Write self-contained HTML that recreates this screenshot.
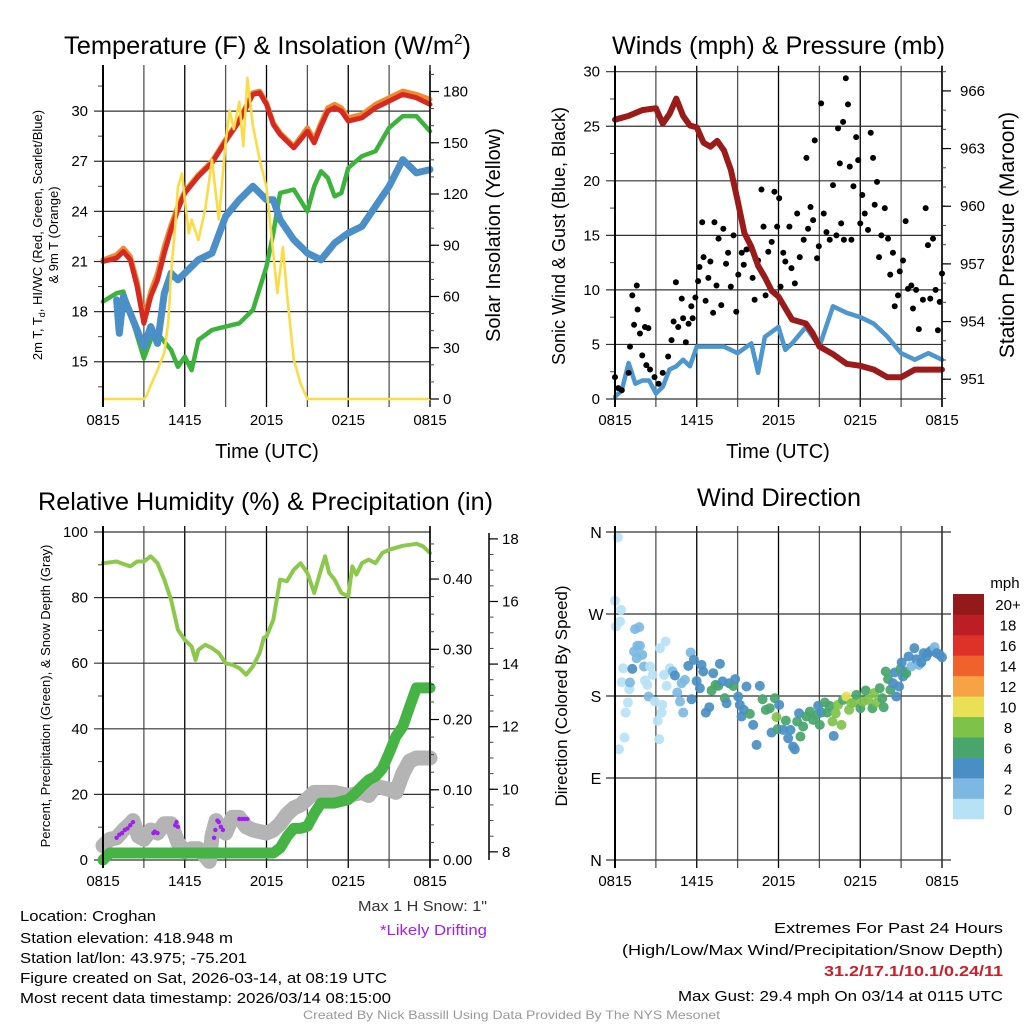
<!DOCTYPE html>
<html><head><meta charset="utf-8"><style>
html,body{margin:0;padding:0;background:#fff}
svg{display:block;font-family:"Liberation Sans",sans-serif}
</style></head><body>
<svg id="fig" width="1024" height="1024" viewBox="0 0 1024 1024" xmlns="http://www.w3.org/2000/svg">
<g id="grids"></g><g id="marks"></g><g id="axes"></g>
<text x="64" y="54" font-size="25" textLength="407" lengthAdjust="spacingAndGlyphs">Temperature (F) &amp; Insolation (W/m<tspan font-size="15" dy="-10">2</tspan><tspan dy="10">)</tspan></text>
<text x="612" y="54" font-size="25" textLength="333" lengthAdjust="spacingAndGlyphs">Winds (mph) &amp; Pressure (mb)</text>
<text x="38" y="510" font-size="25" textLength="455" lengthAdjust="spacingAndGlyphs">Relative Humidity (%) &amp; Precipitation (in)</text>
<text x="697" y="506" font-size="25" textLength="164" lengthAdjust="spacingAndGlyphs">Wind Direction</text>
<text x="267" y="458" font-size="20" text-anchor="middle">Time (UTC)</text>
<text x="778" y="458" font-size="20" text-anchor="middle">Time (UTC)</text>
<text transform="translate(42,235) rotate(-90)" font-size="13" text-anchor="middle">2m T, T<tspan font-size="9" dy="3">d</tspan><tspan dy="-3">, HI/WC (Red, Green, Scarlet/Blue)</tspan></text>
<text transform="translate(58,235) rotate(-90)" font-size="13" text-anchor="middle">&amp; 9m T (Orange)</text>
<text transform="translate(500,235) rotate(-90)" font-size="20" text-anchor="middle">Solar Insolation (Yellow)</text>
<text transform="translate(565,236) rotate(-90)" font-size="18" text-anchor="middle">Sonic Wind &amp; Gust (Blue, Black)</text>
<text transform="translate(1014,235) rotate(-90)" font-size="21" text-anchor="middle">Station Pressure (Maroon)</text>
<text transform="translate(50,696) rotate(-90)" font-size="13" text-anchor="middle">Percent, Precipitation (Green), &amp; Snow Depth (Gray)</text>
<text transform="translate(567,696) rotate(-90)" font-size="17" text-anchor="middle">Direction (Colored By Speed)</text>
<g font-size="15">
<text x="20" y="921" textLength="136" lengthAdjust="spacingAndGlyphs">Location: Croghan</text>
<text x="20" y="943" textLength="213" lengthAdjust="spacingAndGlyphs">Station elevation: 418.948 m</text>
<text x="20" y="963" textLength="227" lengthAdjust="spacingAndGlyphs">Station lat/lon: 43.975; -75.201</text>
<text x="20" y="983" textLength="367" lengthAdjust="spacingAndGlyphs">Figure created on Sat, 2026-03-14, at 08:19 UTC</text>
<text x="20" y="1003" textLength="371" lengthAdjust="spacingAndGlyphs">Most recent data timestamp: 2026/03/14 08:15:00</text>
<text x="358" y="911" fill="#333" textLength="129" lengthAdjust="spacingAndGlyphs">Max 1 H Snow: 1"</text>
<text x="380" y="935" fill="#a020f0" textLength="107" lengthAdjust="spacingAndGlyphs">*Likely Drifting</text>
<text x="1003" y="933" text-anchor="end" textLength="229" lengthAdjust="spacingAndGlyphs">Extremes For Past 24 Hours</text>
<text x="1003" y="955" text-anchor="end" textLength="381" lengthAdjust="spacingAndGlyphs">(High/Low/Max Wind/Precipitation/Snow Depth)</text>
<text x="1003" y="976" text-anchor="end" fill="#c8202a" font-weight="bold" textLength="179" lengthAdjust="spacingAndGlyphs">31.2/17.1/10.1/0.24/11</text>
<text x="1003" y="1001" text-anchor="end" textLength="325" lengthAdjust="spacingAndGlyphs">Max Gust: 29.4 mph On 03/14 at 0115 UTC</text>
</g>
<text x="303" y="1019" font-size="12" fill="#999" textLength="417" lengthAdjust="spacingAndGlyphs">Created By Nick Bassill Using Data Provided By The NYS Mesonet</text>
</svg>
<script>
// ---------- data (hours since 0815 UTC) ----------
const xTickLabels = ["0815","1415","2015","0215","0815"];
const tempHours = [0,1,1.5,2,2.5,3,3.5,4,4.5,5,5.5,6,7,8,9,10,11,11.5,12,12.5,13,14,15,15.5,16,16.5,17,17.5,18,19,20,21,22,23,24];
const tempRed = [21.0,21.2,21.6,21.1,19.5,17.3,18.9,19.9,21.5,22.9,24.1,25.1,26.1,26.9,28.2,29.4,31.0,31.1,30.4,29.2,28.6,27.8,28.8,28.1,29.1,30.0,30.2,30.0,29.4,29.6,30.2,30.6,31.0,30.8,30.4];
const tempOrange = [21.1,21.4,21.8,21.3,19.8,17.6,19.2,20.3,21.9,23.2,24.3,25.2,26.2,27.0,28.3,29.5,31.1,31.2,30.5,29.3,28.7,27.9,29.0,28.3,29.3,30.2,30.4,30.2,29.6,29.8,30.4,30.8,31.2,31.0,30.7];
const dewHours = [0,1,1.5,2,3,3.5,4,5,5.5,6,6.5,7,8,9,10,11,12,12.5,13,14,15,15.5,16,16.5,17,17.5,18,19,20,21,22,23,24];
const dewGreen = [18.6,19.1,19.2,17.9,15.2,16.3,16.7,15.7,14.7,15.3,14.5,16.3,16.9,17.1,17.3,18.1,20.7,22.7,25.1,25.3,24.0,25.5,26.4,26.0,24.9,25.1,26.6,27.3,27.6,29.0,29.7,29.7,28.8];
const chillHours = [1,1.2,1.5,2,3,3.5,4,4.5,5,5.5,6,7,8,9,10,11,12,12.5,13,14,15,16,17,18,19,20,21,22,23,24];
const chillBlue = [18.7,16.7,18.9,17.9,15.9,17.1,16.1,19.1,20.3,19.9,20.3,21.1,21.5,23.7,24.7,25.5,24.7,24.7,23.5,22.3,21.5,21.1,22.1,22.7,23.1,24.3,25.5,27.1,26.3,26.5];
const solarHours = [0,3,3.2,3.5,4,4.5,4.8,5,5.3,5.5,5.8,6,6.3,6.5,7,7.5,8,8.5,9,9.3,9.6,10,10.3,10.6,11,11.5,12,12.5,12.8,13.2,13.5,14,14.5,15,24];
const solarYellow = [0,0,2,8,17,27,46,74,101,124,132,117,97,105,93,111,140,105,150,169,158,174,148,188,160,140,124,85,62,89,62,23,9,0,0];
const tempTicks = [15,18,21,24,27,30];
const solarTicks = [0,30,60,90,120,150,180];

const presHours = [0,1,2,3,3.5,4,4.5,5,5.5,6,6.5,7,7.5,8,8.5,9,9.5,10,10.5,11,11.5,12,13,14,14.5,15,16,17,18,19,20,21,22,23,24];
const pressure = [964.5,964.7,965.0,965.1,964.3,964.8,965.6,964.7,964.2,964.1,963.3,963.1,963.4,962.9,961.9,960.3,958.6,957.9,956.9,956.3,955.6,955.3,954.1,953.9,953.4,952.7,952.3,951.8,951.7,951.5,951.1,951.1,951.5,951.5,951.5];
const windHours = [0,0.5,1,1.5,2,2.5,3,3.5,4,4.5,5,5.5,6,7,8,9,10,10.5,11,12,12.5,13,14,15,16,17,18,19,20,21,22,23,24];
const windSpeed = [0.2,0.8,3.3,1.4,1.7,1.7,0.5,1.1,2.7,3.0,3.6,3.0,4.8,4.8,4.8,4.2,5.1,2.4,5.7,6.6,4.5,5.1,6.6,4.8,8.5,7.9,7.5,6.9,5.7,4.2,3.6,4.2,3.6];
const gustHours = [0,0.24,0.5,1.0,1.1,1.27,1.4,1.6,1.66,1.83,2.0,2.2,2.3,2.45,2.57,2.9,3.2,3.5,3.9,4.15,4.3,4.47,4.64,4.9,5.0,5.2,5.4,5.6,5.7,5.9,6.1,6.2,6.4,6.5,6.65,6.85,7.0,7.2,7.3,7.45,7.6,7.8,7.95,8.15,8.3,8.5,8.7,8.9,9.05,9.3,9.45,9.65,9.9,10.1,10.25,10.5,10.75,10.9,11.05,11.25,11.5,11.7,11.9,12.05,12.15,12.35,12.5,12.8,12.95,13.2,13.37,13.56,13.85,14.05,14.17,14.35,14.54,14.66,14.83,14.96,15.13,15.32,15.52,15.76,16.0,16.25,16.37,16.5,16.6,16.74,16.8,16.94,17.1,17.23,17.35,17.5,17.7,17.85,18.0,18.15,18.33,18.57,18.77,18.94,19.06,19.23,19.38,19.55,19.8,20.04,20.2,20.4,20.53,20.77,20.9,21.14,21.33,21.5,21.75,21.87,22.1,22.3,22.6,22.8,22.97,23.14,23.34,23.53,23.7,23.83,24.0];
const gustSpeed = [2.0,1.0,0.8,2.4,4.8,9.5,6.8,10.4,8.2,6.0,4.0,6.6,3.1,6.5,2.7,2.0,1.4,2.4,3.9,5.4,7.1,10.7,6.6,9.2,7.4,5.2,6.9,8.5,7.4,9.3,10.8,12.1,16.2,13.0,9.0,11.1,12.6,7.9,16.2,10.4,14.7,8.6,15.6,12.4,13.4,10.3,15.0,8.0,11.4,13.4,12.3,13.7,13.8,11.1,9.1,12.7,19.2,15.8,9.5,13.5,14.4,19.0,15.8,18.4,10.3,13.4,12.6,15.8,12.0,10.6,17.0,13.0,14.6,22.1,15.6,17.6,16.4,23.7,12.9,14.0,27.1,17.0,15.3,14.6,19.6,15.0,24.8,21.6,16.1,25.4,14.6,29.4,27.0,21.3,14.6,19.5,24.0,21.9,16.1,18.7,17.0,15.5,24.4,22.1,17.8,19.9,13.0,15.0,17.5,14.7,11.4,13.4,8.5,9.5,11.7,12.7,16.3,10.1,10.4,8.3,10.0,6.4,9.1,17.5,14.1,9.2,14.7,10.0,6.3,8.9,11.5];
const windTicks = [0,5,10,15,20,25,30];
const presTicks = [951,954,957,960,963,966];

const rhHours = [0,1,2,2.5,3,3.5,4,4.5,5,5.5,6,6.5,6.8,7,7.5,8,8.5,9,9.5,10,10.5,11,11.5,11.8,12,12.5,13,13.5,14,14.5,15,15.5,16,16.3,16.6,17,17.5,18,18.3,18.6,19,19.5,20,20.5,21,22,23,23.5,24];
const rh = [90.5,91,89.5,91,91,92.6,90.5,85.5,79.3,70.2,67.1,65.1,61,64.1,65.6,64.6,63.1,60,59.5,58.5,56.5,59,63.1,67.7,68.2,73.2,85.5,85,88.5,90.5,87.5,81.4,88.5,92.6,87.5,85.5,81.4,80.4,89.5,87,90.5,91.6,90.5,93.6,94.6,95.8,96.4,95.6,93.6];
const precipHours = [0,0.5,12.5,13,13.5,14,14.5,15,15.5,16,17,18,18.5,19,19.5,20,20.5,21,21.5,22,22.5,23,24];
const precip = [0,0.01,0.01,0.017,0.033,0.045,0.045,0.048,0.066,0.081,0.081,0.086,0.095,0.105,0.114,0.119,0.13,0.152,0.176,0.19,0.218,0.245,0.245];
const snowHours = [0,0.5,1,1.5,2,2.2,2.6,3,3.5,4,4.5,5,5.5,6,6.5,7,7.8,8,8.3,8.7,9,9.5,10,10.5,11,12,12.5,13,13.5,14,14.5,15,15.5,16,17,18,19,19.5,20,21,21.5,22,22.5,23,24];
const snowDepth = [8.2,8.4,8.45,8.7,8.9,9.0,8.5,8.4,8.7,8.6,8.9,8.9,8.3,8.0,8.1,8.1,7.7,8.5,9.0,8.7,8.6,9.1,9.1,8.8,8.7,8.6,8.7,8.9,9.2,9.4,9.5,9.7,9.9,9.9,9.9,9.8,9.9,9.8,10.1,10.0,9.9,10.5,10.9,11.0,11.0];
const driftHours = [1.0,1.2,1.4,1.6,1.8,2.0,2.2,3.7,3.8,4.0,5.3,5.4,5.5,8.15,8.25,8.4,8.5,8.65,8.8,10.0,10.2,10.4,10.6];
const driftDepth = [8.45,8.55,8.6,8.7,8.75,8.85,8.95,8.6,8.65,8.6,8.85,8.95,8.8,8.45,8.7,9.0,8.95,8.8,8.7,9.05,9.05,9.05,9.05];
const rhTicks = [0,20,40,60,80,100];
const precipTicks = ["0.00","0.10","0.20","0.30","0.40"];
const snowTicks = [8,10,12,14,16,18];

const dirHours = [0.2,0,0.44,0.37,0.07,0.29,0.7,0.78,0.95,0.6,0.5,1.05,1.1,1.27,1.4,1.47,1.78,1.64,1.83,2.0,1.59,2.13,2.2,2.37,2.57,2.76,2.47,2.93,3.13,3.25,3.47,3.42,3.3,3.71,3.79,3.6,4.03,4.23,4.4,4.57,4.77,5.01,4.89,5.13,5.38,5.55,5.62,5.79,5.99,6.23,6.35,6.48,6.67,6.92,7.09,7.21,7.38,7.58,7.7,7.89,8.06,8.19,8.38,8.68,8.82,9.04,9.16,9.29,9.46,9.65,9.9,10.14,10.39,10.63,10.83,11.07,11.36,11.49,11.73,11.85,11.93,12.05,12.34,12.54,12.71,12.88,13.07,13.2,13.37,13.51,13.61,13.81,14.05,14.3,14.54,14.79,14.91,15.03,15.15,15.4,15.57,15.76,15.96,16.05,16.2,16.37,16.62,16.74,16.98,17.18,17.35,17.52,17.72,18.01,18.2,18.4,18.57,18.89,19.01,19.23,19.43,19.62,19.72,19.87,20.04,20.21,20.41,20.53,20.65,20.85,20.94,21.04,21.14,21.26,21.38,21.55,21.75,21.97,22.12,22.31,22.48,22.65,22.85,23.04,23.22,23.46,23.63,23.83,24];
const dirDeg = [354,284.5,274.6,261.8,256.3,121.6,134.4,161.8,172.8,210.5,195.2,187.5,194.8,209.8,228.9,253.4,255.6,235.1,235.1,225.2,221.5,212.4,197,192.2,212.4,203.2,179.4,173.9,152.7,132.6,170.3,161.8,232.5,239.8,191.1,203.2,210.5,206.9,202.5,183.8,173.9,161.8,194.1,197.7,213.1,227.8,176.5,219.7,196.3,188.6,214.2,206.9,161.8,167.7,186,205,192.2,191.1,215.3,196,177.6,172.1,194,191,198.5,179.4,170.3,157.5,164.8,190.4,160.4,148.3,126.3,191.1,176.5,164.8,166.6,139.9,177.6,156.8,143.6,170.3,142.8,153,133.6,142.8,124.5,121.6,152,161,135.5,146.5,157.5,162.9,153.8,159.3,169.2,148.3,161.8,172.8,161.8,169.2,152,136.2,161,170.3,148.3,175.8,179.4,164.8,172.1,172.8,181.3,166.6,173.9,186,175.8,166.6,183.1,172.8,188.6,177.6,167.7,206.9,198.5,186.7,194,205.8,179.4,190.4,209.5,216.8,201.4,206.9,205,223.4,212.4,232.5,220.4,214.2,216.8,227,223.4,227.8,230,233.6,227,225.2,222.6];
const dirSpeed = [0,1,0,1,1,0,0,0,0,0,0,1,3,4,2,2,2,2,2,2,2,2,1,0,1,0,2,0,0,0,0,0,0,0,1,0,1,2,4,2,2,2,2,2,4,2,4,4,4,4,4,4,4,4,6,4,6,6,4,4,6,4,4,6,4,4,4,4,4,4,6,4,4,4,6,6,6,4,6,8,6,4,4,6,4,4,4,4,6,4,6,6,6,6,6,6,4,6,4,6,6,6,8,4,8,8,8,6,10,8,8,8,6,6,8,6,8,6,8,8,6,6,6,6,6,6,4,4,4,4,6,4,4,4,6,4,2,4,4,2,4,4,4,4,4,2,4,4,4];
const dirTickLabels = ["N","E","S","W","N"];
const speedBinLabels = ["0","2","4","6","8","10","12","14","16","18","20+"];
const speedBinColors = ["#b7e2f5","#7cb8e2","#4a8fc4","#48a56b","#7fc24a","#e9e056","#f6a345","#f0622c","#de3127","#bd1d24","#931a1a"];

// ---------- helpers ----------
const NS="http://www.w3.org/2000/svg";
const G=document.getElementById('grids'),M=document.getElementById('marks'),A=document.getElementById('axes');
function mk(parent,tag,attrs){const e=document.createElementNS(NS,tag);for(const k in attrs)e.setAttribute(k,attrs[k]);parent.appendChild(e);return e;}
function lin(d0,d1,r0,r1){return v=>r0+(v-d0)*(r1-r0)/(d1-d0);}
function pathD(xs,ys,sx,sy){return xs.map((h,i)=>(i?'L':'M')+sx(h).toFixed(1)+','+sy(ys[i]).toFixed(1)).join('');}

function frame(px0,px1,py0,py1,name){
  const sx=lin(0,24,px0,px1);
  for(let h=0;h<=24;h+=3){
    const x=sx(h);
    const gl=mk(G,'line',{x1:x,x2:x,y1:py0-6,y2:py1+8,stroke:(h%6==0)?'#000':'#555','stroke-width':1.3});
    
    
  }
  xTickLabels.forEach((t,i)=>{
    const tx=mk(A,'text',{x:sx(i*6),y:py1+26,'font-size':15,'text-anchor':'middle'});
    
    
    tx.textContent=t;
  });
  return sx;
}
function hgrid(sy,vals,px0,px1,name,labelX,fmt,anchor){
  vals.forEach(v=>{
    const y=sy(v);
    const l=mk(G,'line',{x1:px0-9,x2:px1,y1:y,y2:y,stroke:'#333','stroke-width':1.2});
    
    
    if(labelX!=null){
      const t=mk(A,'text',{x:labelX,y:y+5,'font-size':15,'text-anchor':anchor||'end'});
      
      
      t.textContent=fmt?fmt(v):v;
    }
  });
}
function rightAxis(ax,py0,py1,sy,major,minorStep,dom,labelX,fmt,name,len){
  const l=mk(A,'line',{x1:ax,x2:ax,y1:py0,y2:py1,stroke:'#000','stroke-width':1.5});
  
  
  for(let v=Math.ceil(dom[0]/minorStep)*minorStep;v<=dom[1]+1e-9;v+=minorStep){
    const y=sy(v);
    const m=mk(A,'line',{x1:ax,x2:ax+(len||8)/2,y1:y,y2:y,stroke:'#444','stroke-width':1});
    
    
  }
  major.forEach(v=>{
    const y=sy(+v);
    const t1=mk(A,'line',{x1:ax,x2:ax+(len||9),y1:y,y2:y,stroke:'#000','stroke-width':1.2});
    
    
    const t=mk(A,'text',{x:labelX,y:y+5,'font-size':15});
    
    
    t.textContent=fmt?fmt(v):v;
  });
}
function leftAxisLine(x,py0,py1,name){
  const l=mk(A,'line',{x1:x,x2:x,y1:py0-6,y2:py1+8,stroke:'#000','stroke-width':2});
  
  
}
function line(xs,ys,sx,sy,color,w,name){
  const p=mk(M,'path',{d:pathD(xs,ys,sx,sy),fill:'none',stroke:color,'stroke-width':w,'stroke-linejoin':'round','stroke-linecap':'round'});
  
  
}

// ---------- Top-left: temperature ----------
{
  const px0=103,px1=430,py0=71,py1=399;
  const sx=frame(px0,px1,py0,py1,'temp');
  const sy=lin(12.77,32.4,py1,py0), sr=lin(0,192,py1,py0);
  hgrid(sy,tempTicks,px0,px1,'temp',88);
  for(let v=13.5;v<32.4;v+=3){const m=mk(A,'line',{x1:px0-5,x2:px0,y1:sy(v),y2:sy(v),stroke:'#444'});}
  leftAxisLine(px0,py0,py1,'temp');
  line(tempHours,tempOrange,sx,sy,'#f08a2c',5,'temp-9m-orange-line');
  line(tempHours,tempRed,sx,sy,'#d42a22',5,'temp-2m-red-line');
  line(dewHours,dewGreen,sx,sy,'#3db23d',4.5,'dewpoint-green-line');
  line(chillHours,chillBlue,sx,sy,'#4a8fc8',7,'windchill-blue-line');
  line(solarHours,solarYellow,sx,sr,'#fadc46',2.6,'solar-yellow-line');
  rightAxis(px1,py0,py1,sr,solarTicks,10,[0,192],443,null,'solar');
}
// ---------- Top-right: winds ----------
{
  const px0=615,px1=942,py0=71.7,py1=399;
  const sx=frame(px0,px1,py0,py1,'wind');
  const sy=lin(0,30,py1,py0), sp=lin(949.97,967,py1,py0);
  hgrid(sy,windTicks,px0,px1,'wind',600);
  for(let v=2.5;v<30;v+=5){const m=mk(A,'line',{x1:px0-5,x2:px0,y1:sy(v),y2:sy(v),stroke:'#444'});}
  leftAxisLine(px0,py0,py1,'wind');
  line(windHours,windSpeed,sx,sy,'#4d96d0',4.5,'sustained-wind-blue-line');
  gustHours.forEach((h,i)=>{
    const c=mk(M,'circle',{cx:sx(h),cy:sy(gustSpeed[i]),r:3,fill:'#000'});
    
    
  });
  line(presHours,pressure,sx,sp,'#9b1b1b',6,'pressure-maroon-line');
  rightAxis(px1,py0-6,py1+8,sp,presTicks,1,[950,967],960,null,'pressure');
}
// ---------- Bottom-left: RH ----------
{
  const px0=103,px1=430,py0=532,py1=860;
  const sx=frame(px0,px1,py0,py1,'rh');
  const sy=lin(0,100,py1,py0), spr=lin(0,0.467,py1,py0), ss=lin(7.74,18.22,py1,py0);
  hgrid(sy,rhTicks,px0,px1,'rh',88);
  for(let v=10;v<100;v+=20){const m=mk(A,'line',{x1:px0-5,x2:px0,y1:sy(v),y2:sy(v),stroke:'#444'});}
  leftAxisLine(px0,py0,py1,'rh');
  line(snowHours,snowDepth,sx,ss,'#b4b4b4',15,'snow-depth-gray-line');
  driftHours.forEach((h,i)=>{
    const c=mk(M,'circle',{cx:sx(h),cy:ss(driftDepth[i]),r:2.2,fill:'#a020f0'});
    
    
  });
  line(precipHours,precip,sx,spr,'#45b445',11,'precip-green-line');
  line(rhHours,rh,sx,sy,'#8cc84b',4,'rh-line');
  rightAxis(px1,py0-6,py1+8,spr,precipTicks,0.025,[0,0.467],443,null,'precip');
  rightAxis(489,533,860,ss,snowTicks,0.5,[8,18],502,null,'snow',9);
}
// ---------- Bottom-right: wind direction ----------
{
  const px0=615,px1=942,py0=532,py1=860;
  const sx=frame(px0,px1,py0,py1,'dir');
  const sy=lin(0,360,py1,py0);
  dirTickLabels.forEach((t,i)=>{
    const y=sy(i*90);
    const l=mk(G,'line',{x1:px0-9,x2:px1+9,y1:y,y2:y,stroke:'#333','stroke-width':1.2});
    
    
    const tx=mk(A,'text',{x:596,y:y+6,'font-size':16,'text-anchor':'middle'});
    
    
    tx.textContent=t;
  });
  leftAxisLine(px0,py0,py1,'dir');
  dirHours.forEach((h,i)=>{
    const b=Math.min(10,Math.floor(dirSpeed[i]/2));
    const c=mk(M,'circle',{cx:sx(h),cy:sy(dirDeg[i]),r:5,fill:speedBinColors[b],'fill-opacity':0.92});
    
    
  });
  const lg=mk(A,'g',{});
  
  
  const mt=mk(lg,'text',{x:1005,y:588,'font-size':15,'text-anchor':'middle'});
  
  
  mt.textContent='mph';
  const cb0=594,cb1=819,bh=(cb1-cb0)/speedBinLabels.length;
  speedBinLabels.forEach((t,i)=>{
    const y=cb1-(i+1)*bh;
    const r=mk(lg,'rect',{x:953,y:y,width:31,height:bh+0.3,fill:speedBinColors[i]});
    
    
    const tx=mk(lg,'text',{x:1008,y:y+bh/2+6,'font-size':15,'text-anchor':'middle'});
    
    
    tx.textContent=t;
  });
}
</script>
</body></html>
